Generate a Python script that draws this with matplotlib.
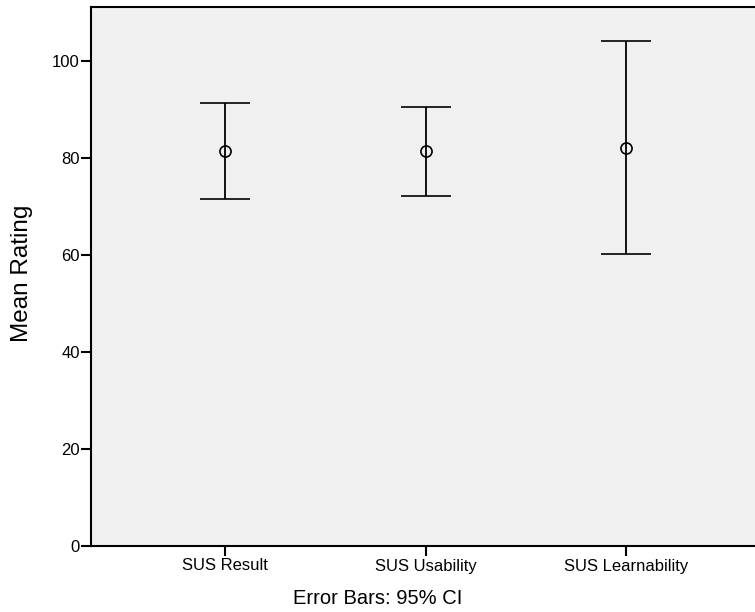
import matplotlib
matplotlib.use('Agg')
import matplotlib.pyplot as plt

categories = ['SUS Result', 'SUS Usability', 'SUS Learnability']
means = [81.4, 81.4, 82.1]
ci_low = [71.5, 72.2, 60.1]
ci_high = [91.3, 90.5, 104.1]

plt.rcParams['font.family'] = ['Liberation Sans', 'DejaVu Sans']

fig = plt.figure(figsize=(7.55, 6.12), dpi=100)
ax = fig.add_axes([91/755, 66/612, 1 - 91/755, (546 - 7)/612])
ax.set_facecolor('#F0F0F0')

x = list(range(len(categories)))
yerr = [[m - lo for m, lo in zip(means, ci_low)],
        [hi - m for m, hi in zip(means, ci_high)]]
ax.errorbar(x, means, yerr=yerr, fmt='o', color='black', mfc='none',
            ms=8, mew=1.2, elinewidth=1.3, capsize=18, capthick=1.3)

ax.set_xlim(-0.67, 2.645)
ax.set_ylim(0, 111.1)
ax.set_yticks([0, 20, 40, 60, 80, 100])
ax.set_xticks(x)
ax.set_xticklabels(categories)

for s in ['left', 'bottom', 'top']:
    ax.spines[s].set_linewidth(1.5)
ax.spines['right'].set_visible(False)
ax.tick_params(axis='both', length=7, width=1.5, labelsize=12, direction='out')
ax.tick_params(axis='x', pad=2)
ax.tick_params(axis='y', pad=1)

ax.set_ylabel('Mean Rating', fontsize=17.5)
ax.yaxis.set_label_coords(-0.087, 0.505)
fig.text(0.5, 1 - 599/612, 'Error Bars: 95% CI', ha='center', va='center', fontsize=14.5)

plt.savefig('out.png', dpi=100, facecolor='white')
